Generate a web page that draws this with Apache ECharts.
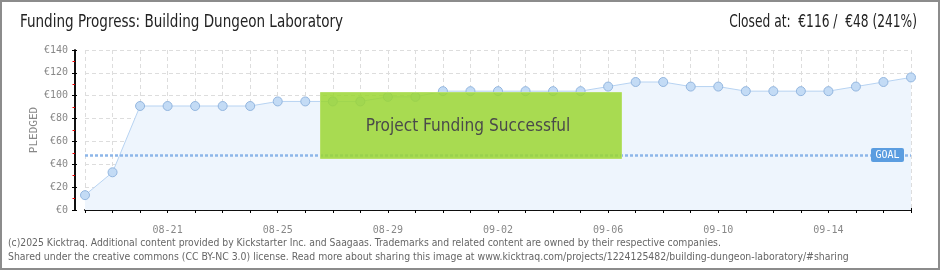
<!DOCTYPE html>
<html><head><meta charset="utf-8">
<script src="https://cdn.jsdelivr.net/npm/echarts@6/dist/echarts.min.js"></script>
<style>
html,body{margin:0;padding:0;background:#fff;}
#wrap{position:relative;width:940px;height:270px;box-sizing:border-box;border:2px solid #8c8c8c;}
#c{position:absolute;left:-2px;top:-2px;width:940px;height:270px;}
</style></head>
<body><div id="wrap"><div id="c"></div></div>
<script>
const dates = ["08-18","08-19","08-20","08-21","08-22","08-23","08-24","08-25","08-26","08-27","08-28","08-29","08-30","08-31","09-01","09-02","09-03","09-04","09-05","09-06","09-07","09-08","09-09","09-10","09-11","09-12","09-13","09-14","09-15","09-16","09-17"];
const pledged = [13,33,91,91,91,91,91,95,95,95,95,99,99,104,104,104,104,104,104,108,112,112,108,108,104,104,104,104,108,112,116];
const goal = 48;
const yTicks = [0,20,40,60,80,100,120,140];
const titleText = "Funding Progress: Building Dungeon Laboratory";
const closedText = "Closed at:  €116 /  €48 (241%)";
const successText = "Project Funding Successful";
const footer1 = "(c)2025 Kicktraq. Additional content provided by Kickstarter Inc. and Saagaas. Trademarks and related content are owned by their respective companies.";
const footer2 = "Shared under the creative commons (CC BY-NC 3.0) license. Read more about sharing this image at www.kicktraq.com/projects/1224125482/building-dungeon-laboratory/#sharing";

const F = '"Liberation Sans Narrow","DejaVu Sans Condensed","Roboto",sans-serif';
const M = '"DejaVu Sans Mono",monospace';
const chart = echarts.init(document.getElementById('c'), null, {renderer:'canvas'});
const xBase = {
  type:'category',data:dates,boundaryGap:false,offset:10,
  axisLine:{lineStyle:{color:'#000',width:1.5}},
  axisTick:{show:true,interval:0,length:3,lineStyle:{color:'#000'}}
};
const yBase = {
  type:'value',min:yTicks[0],max:yTicks[yTicks.length-1],interval:20,offset:10,
  axisLine:{show:true,lineStyle:{color:'#000',width:1.5}},
  axisTick:{show:true,length:3,lineStyle:{color:'#000'}}
};
chart.setOption({
  animation:false,
  textStyle:{fontFamily:F},
  grid:{left:85,right:29,top:50,bottom:60},
  xAxis:[
    Object.assign({},xBase,{
      axisLabel:{interval:(i)=>i%4===3,color:'#888',fontSize:10,margin:5,fontFamily:M},
      splitLine:{show:true,interval:0,lineStyle:{color:'#ddd',type:[4,3]}}
    }),
    Object.assign({},xBase,{position:'bottom',axisTick:{show:true,inside:true,interval:0,length:2,lineStyle:{color:'#000'}},axisLabel:{show:false},splitLine:{show:false}})
  ],
  yAxis:[
    Object.assign({},yBase,{
      name:'PLEDGED',nameLocation:'middle',nameGap:35,nameRotate:90,nameMoveOverlap:false,
      nameTextStyle:{color:'#888',fontSize:11,fontFamily:M},
      minorTick:{show:true,splitNumber:2,length:2.5,lineStyle:{color:'#e00'}},
      axisLabel:{color:'#888',fontSize:10,margin:7,formatter:v=>'€'+v,fontFamily:M},
      splitLine:{show:true,lineStyle:{color:'#ddd',type:[4,3]}}
    }),
    Object.assign({},yBase,{position:'left',axisTick:{show:true,inside:true,length:2,lineStyle:{color:'#000'}},axisLabel:{show:false},splitLine:{show:false}})
  ],
  series:[{
    type:'line',data:pledged,symbol:'circle',symbolSize:9,
    lineStyle:{color:'#b7d3f2',width:1},
    itemStyle:{color:'#c3dbf5',borderColor:'#93b6df',borderWidth:1},
    areaStyle:{color:'#eef5fd',opacity:1},
    markLine:{silent:true,symbol:'none',
      lineStyle:{color:'#8db6e9',width:2.5,type:[3,2]},
      label:{show:false},
      data:[{yAxis:goal}]}
  }],
  graphic:[
    {type:'text',x:20,y:23,scaleX:0.885,style:{text:titleText,fill:'#222',font:'17px '+F,textVerticalAlign:'middle'}},
    {type:'text',x:917,y:23,scaleX:0.8,style:{text:closedText,fill:'#222',font:'17px '+F,textAlign:'right',textVerticalAlign:'middle'}},
    {type:'rect',left:320,top:92,shape:{width:301,height:66},style:{fill:'rgba(155,214,50,0.85)',stroke:'#b6e06a',lineWidth:1},z:100},
    {type:'text',x:468,y:126,z:101,scaleX:0.95,style:{text:successText,fill:'#4a4a4a',font:'18px '+F,textAlign:'center',textVerticalAlign:'middle',textShadowColor:'#fff',textShadowOffsetX:-1,textShadowOffsetY:1,textShadowBlur:0}},
    {type:'rect',left:871,top:148,shape:{width:33,height:14,r:2},style:{fill:'#5b9de0'},z:100},
    {type:'text',x:887.5,y:155.5,z:101,style:{text:'GOAL',fill:'#fff',font:'10px '+M,textAlign:'center',textVerticalAlign:'middle'}},
    {type:'text',x:8,y:243,style:{text:footer1,fill:'#666',font:'10.3px '+F,textVerticalAlign:'middle'}},
    {type:'text',x:8,y:257,style:{text:footer2,fill:'#666',font:'10.4px '+F,textVerticalAlign:'middle'}}
  ]
});
</script></body></html>
